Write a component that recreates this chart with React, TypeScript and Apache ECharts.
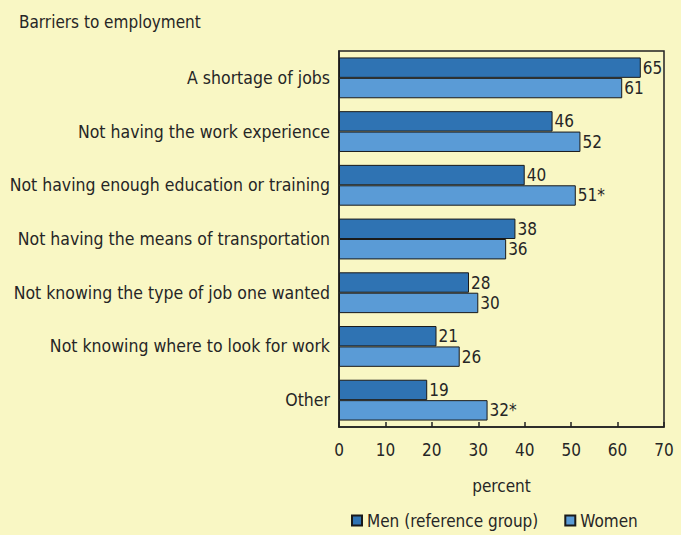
import React, { useEffect, useRef } from "react";
import * as echarts from "echarts";

const categories = [
  "A shortage of jobs",
  "Not having the work experience",
  "Not having enough education or training",
  "Not having the means of transportation",
  "Not knowing the type of job one wanted",
  "Not knowing where to look for work",
  "Other",
];
const men = [65, 46, 40, 38, 28, 21, 19];
const women = [61, 52, 51, 36, 30, 26, 32];
const womenSignificant = [false, false, true, false, false, false, true];
const xTicks = [0, 10, 20, 30, 40, 50, 60, 70];

const FONT = "'DejaVu Sans Condensed', 'DejaVu Sans', sans-serif";
const TEXT = "#262626";

export default function App() {
  const ref = useRef<HTMLDivElement>(null);
  useEffect(() => {
    if (!ref.current) return;
    const chart = echarts.init(ref.current, null, { renderer: "svg" });
    chart.setOption({
      animation: false,
      backgroundColor: "#F9F7C4",
      textStyle: { fontFamily: FONT, color: TEXT },
      title: {
        text: "Barriers to employment",
        left: 14,
        top: 8,
        textStyle: { fontFamily: FONT, fontSize: 17, fontWeight: "normal", color: TEXT },
      },
      legend: {
        top: 507,
        left: 346,
        itemWidth: 10,
        itemHeight: 10,
        itemGap: 26,
        icon: "rect",
        textStyle: { fontFamily: FONT, fontSize: 17, color: TEXT },
        data: ["Men (reference group)", "Women"],
      },
      grid: {
        left: 339,
        right: 17,
        top: 51,
        bottom: 108,
        show: true,
        borderColor: "#222",
        borderWidth: 1.5,
        backgroundColor: "transparent",
      },
      xAxis: {
        type: "value",
        min: xTicks[0],
        max: xTicks[xTicks.length - 1],
        interval: 10,
        name: "percent",
        nameLocation: "middle",
        nameGap: 50,
        nameTextStyle: { fontFamily: FONT, fontSize: 17, color: TEXT },
        axisLine: { show: true, lineStyle: { color: "#222", width: 1.5 } },
        axisTick: { show: true, inside: true, length: 5, lineStyle: { color: "#222", width: 1.5 } },
        axisLabel: { fontFamily: FONT, fontSize: 17, color: TEXT, margin: 14 },
        splitLine: { show: false },
      },
      yAxis: {
        type: "category",
        inverse: true,
        data: categories,
        axisLine: { show: true, lineStyle: { color: "#222", width: 1.5 } },
        axisTick: { show: false },
        axisLabel: { fontFamily: FONT, fontSize: 17.5, color: TEXT, margin: 9 },
      },
      series: [
        {
          name: "Men (reference group)",
          type: "bar",
          data: men,
          barGap: "0%",
          barCategoryGap: "24%",
          itemStyle: { color: "#2F73B3", borderColor: "#1a1a1a", borderWidth: 1 },
          label: {
            show: true,
            position: "right",
            distance: 2,
            fontFamily: FONT,
            fontSize: 17,
            color: TEXT,
          },
        },
        {
          name: "Women",
          type: "bar",
          data: women,
          barGap: "0%",
          barCategoryGap: "24%",
          itemStyle: { color: "#5A9BD6", borderColor: "#1a1a1a", borderWidth: 1 },
          label: {
            show: true,
            position: "right",
            distance: 2,
            fontFamily: FONT,
            fontSize: 17,
            color: TEXT,
            formatter: (p: any) => `${p.value}${womenSignificant[p.dataIndex] ? "*" : ""}`,
          },
        },
      ],
    });
    return () => chart.dispose();
  }, []);
  return (
    <div
      ref={ref}
      style={{ position: "fixed", left: 0, top: 0, width: 681, height: 535 }}
    />
  );
}
